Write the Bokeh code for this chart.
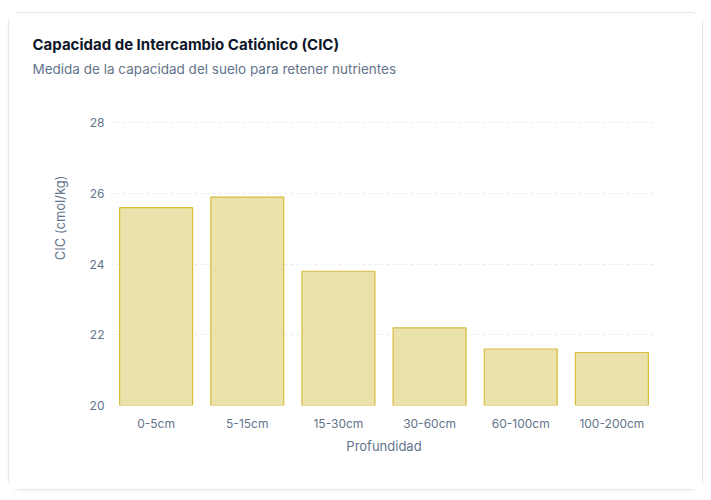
from bokeh.plotting import figure
from bokeh.models import Title, Range1d, FactorRange
from bokeh.embed import file_html
from bokeh.resources import INLINE

categories = ["0-5cm", "5-15cm", "15-30cm", "30-60cm", "60-100cm", "100-200cm"]
cic_values = [25.6, 25.9, 23.8, 22.2, 21.6, 21.5]
y_ticks = [20, 22, 24, 26, 28]

FONT = "Inter"
SLATE = "#64748b"

p = figure(
    x_range=FactorRange(*categories, range_padding=0),
    y_range=Range1d(20, 28.04),
    width=695, height=478,
    output_backend="svg", toolbar_location=None,
    min_border_left=101, min_border_right=47, min_border_top=108, min_border_bottom=86,
    background_fill_color="white", border_fill_color="white",
    outline_line_color=None,
)
p.margin = (12, 0, 0, 8)
p.styles = {"border": "1px solid #e5e7eb", "border-radius": "12px",
            "box-shadow": "0 1px 3px rgba(0,0,0,0.06)"}

p.vbar(x=categories, top=cic_values, bottom=20, width=0.8,
       fill_color="#ebe1ab", line_color="#d9bb3f", line_width=1.2)

spacer = Title(text=" ", text_font=FONT, text_font_size="13px", standoff=25)
p.add_layout(spacer, "above")
sub = Title(text="Medida de la capacidad del suelo para retener nutrientes",
            text_font=FONT, text_font_size="13.5px", text_color=SLATE,
            text_font_style="normal", align="left", offset=-78, standoff=4)
p.add_layout(sub, "above")
main = Title(text="Capacidad de Intercambio Catiónico (CIC)",
             text_font=FONT, text_font_size="15px", text_color="#0f172a",
             text_font_style="bold", align="left", offset=-78, standoff=6)
p.add_layout(main, "above")

ylab = Title(text="CIC (cmol/kg)", text_font=FONT, text_font_size="13px",
             text_color=SLATE, text_font_style="normal", align="right",
             offset=54, standoff=38)
p.add_layout(ylab, "left")

p.yaxis.ticker = y_ticks
p.yaxis.axis_line_color = None
p.yaxis.major_tick_line_color = None
p.yaxis.major_tick_out = 0
p.yaxis.minor_tick_line_color = None
p.yaxis.minor_tick_out = 0
p.yaxis.major_label_text_font = FONT
p.yaxis.major_label_text_font_size = "12px"
p.yaxis.major_label_text_color = SLATE
p.yaxis.major_label_standoff = 6

p.xaxis.axis_line_color = None
p.xaxis.major_tick_line_color = None
p.xaxis.major_tick_out = 0
p.xaxis.major_label_text_font = FONT
p.xaxis.major_label_text_font_size = "12px"
p.xaxis.major_label_text_color = SLATE
p.xaxis.major_label_standoff = 10
p.xaxis.axis_label = "Profundidad"
p.xaxis.axis_label_text_font = FONT
p.xaxis.axis_label_text_font_size = "13px"
p.xaxis.axis_label_text_font_style = "normal"
p.xaxis.axis_label_text_color = SLATE
p.xaxis.axis_label_standoff = 4

p.xgrid.grid_line_color = None
p.ygrid.grid_line_color = "#e9edf2"
p.ygrid.grid_line_dash = "3 3"

open("out.html", "w").write(file_html(p, INLINE))
